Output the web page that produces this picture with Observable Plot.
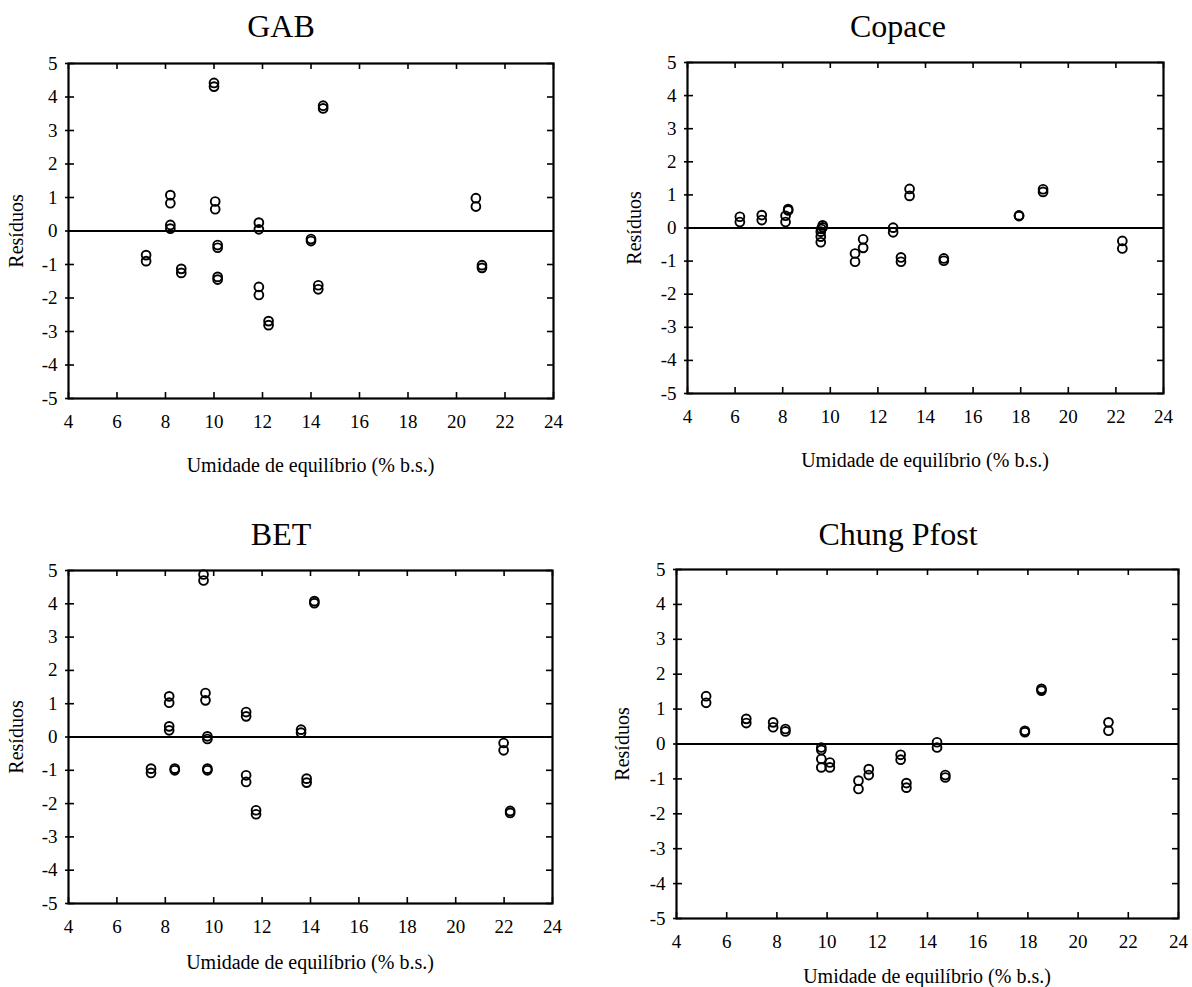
<!DOCTYPE html>
<html>
<head>
<meta charset="utf-8">
<script src="https://cdn.jsdelivr.net/npm/d3@7"></script>
<script src="https://cdn.jsdelivr.net/npm/@observablehq/plot@0.6"></script>
<style>
  html, body { margin: 0; padding: 0; background: #fff; }
  #page { position: relative; width: 1192px; height: 987px; font-family: "Liberation Serif", "Times New Roman", serif; color: #000; }
  .panel-title, .x-label, .y-label { position: absolute; white-space: nowrap; line-height: 1; }
  .panel-title { font-size: 32px; transform: translate(-50%, -50%); }
  .x-label { font-size: 20px; transform: translate(-50%, -50%); }
  .y-label { font-size: 20px; transform: translate(-50%, -50%) rotate(-90deg); }
  .panel-svg { position: absolute; }
  .panel-svg, .panel-svg text { font-family: "Liberation Serif", "Times New Roman", serif !important; }
</style>
</head>
<body>
<div id="page"></div>
<script>
// Residuals of four sorption-isotherm models vs equilibrium moisture content
const xTicks = [4, 6, 8, 10, 12, 14, 16, 18, 20, 22, 24];
const yTicks = [-5, -4, -3, -2, -1, 0, 1, 2, 3, 4, 5];
const xLabel = "Umidade de equilíbrio (% b.s.)";
const yLabel = "Resíduos";

const gabX = [10.0, 10.0, 14.5, 14.5, 8.2, 8.2, 8.2, 8.2, 10.05, 10.05, 11.85, 11.85, 7.2, 7.2, 8.65, 8.65,
  10.15, 10.15, 10.15, 10.15, 11.85, 11.85, 12.25, 12.25, 14.0, 14.0, 14.3, 14.3, 20.8, 20.8, 21.05, 21.05];
const gabY = [4.42, 4.31, 3.74, 3.66, 1.07, 0.83, 0.18, 0.07, 0.88, 0.65, 0.25, 0.05, -0.72, -0.90, -1.13, -1.25,
  -0.42, -0.50, -1.37, -1.45, -1.67, -1.91, -2.69, -2.81, -0.24, -0.30, -1.62, -1.74, 0.98, 0.73, -1.02, -1.10];

const copaceX = [6.2, 6.2, 7.12, 7.12, 8.12, 8.12, 8.23, 8.23, 9.68, 9.68, 9.62, 9.6, 9.6, 9.6, 11.04, 11.04,
  11.38, 11.38, 12.64, 12.64, 12.97, 12.97, 13.33, 13.33, 14.77, 14.77, 17.93, 17.93, 18.94, 18.94, 22.27, 22.27];
const copaceY = [0.34, 0.18, 0.39, 0.24, 0.37, 0.18, 0.57, 0.53, 0.08, 0.02, -0.03, -0.11, -0.26, -0.43, -0.77, -1.02,
  -0.34, -0.60, 0.01, -0.13, -0.89, -1.02, 1.18, 0.97, -0.92, -0.99, 0.38, 0.36, 1.17, 1.09, -0.39, -0.62];

const betX = [9.58, 9.58, 14.16, 14.16, 8.16, 8.16, 8.16, 8.16, 9.66, 9.66, 9.74, 9.74, 11.34, 11.34, 13.61, 13.61,
  7.41, 7.41, 8.39, 8.39, 9.74, 9.74, 11.34, 11.34, 11.75, 11.75, 13.84, 13.84, 21.98, 21.98, 22.25, 22.25];
const betY = [4.88, 4.70, 4.08, 4.02, 1.22, 1.03, 0.32, 0.20, 1.32, 1.10, 0.02, -0.06, 0.75, 0.62, 0.22, 0.13,
  -0.95, -1.08, -0.95, -1.00, -0.95, -1.00, -1.15, -1.35, -2.20, -2.32, -1.25, -1.37, -0.18, -0.40, -2.22, -2.28];

const chungX = [5.18, 5.18, 6.78, 6.78, 7.85, 7.85, 8.34, 8.34, 9.77, 9.77, 9.77, 9.77, 10.11, 10.11, 11.25, 11.25,
  11.66, 11.66, 12.93, 12.93, 13.16, 13.16, 14.38, 14.38, 14.71, 14.71, 17.88, 17.88, 18.54, 18.54, 21.21, 21.21];
const chungY = [1.37, 1.18, 0.72, 0.60, 0.62, 0.48, 0.43, 0.36, -0.10, -0.17, -0.43, -0.67, -0.53, -0.67, -1.05, -1.29,
  -0.72, -0.89, -0.31, -0.45, -1.12, -1.25, 0.05, -0.10, -0.89, -0.96, 0.38, 0.34, 1.58, 1.53, 0.62, 0.38];

// Panel placement on the page (frame edges in px)
const panels = [
  {title: "GAB",         xs: gabX,    ys: gabY,    L: 68,  R: 553,  T: 63,  B: 398, titleX: 281, titleY: 26,  xLabelY: 465, yLabelX: 16},
  {title: "Copace",      xs: copaceX, ys: copaceY, L: 687, R: 1163, T: 62,  B: 393, titleX: 898, titleY: 26,  xLabelY: 460, yLabelX: 634},
  {title: "BET",         xs: betX,    ys: betY,    L: 68,  R: 552,  T: 570, B: 903, titleX: 281, titleY: 534, xLabelY: 962, yLabelX: 16},
  {title: "Chung Pfost", xs: chungX,  ys: chungY,  L: 676, R: 1178, T: 569, B: 918, titleX: 898, titleY: 534, xLabelY: 976, yLabelX: 622}
];

const page = document.getElementById("page");
const mL = 60, mR = 10, mT = 10, mB = 40, tick = 6;

for (const p of panels) {
  const pw = p.R - p.L, ph = p.B - p.T;
  const pts = p.xs.map((x, i) => ({x, y: p.ys[i]}));

  const chart = Plot.plot({
    width: pw + mL + mR,
    height: ph + mT + mB,
    marginLeft: mL, marginRight: mR, marginTop: mT, marginBottom: mB,
    style: {fontFamily: "'Liberation Serif', 'Times New Roman', serif", fontSize: "19px", color: "#000", background: "transparent", overflow: "visible"},
    x: {domain: [4, 24], ticks: xTicks},
    y: {domain: [-5, 5], ticks: yTicks},
    marks: [
      Plot.axisX(xTicks, {tickSize: 0, tickPadding: 16, label: null, fontSize: 19, tickFormat: d => String(d)}),
      Plot.axisY(yTicks, {tickSize: 0, tickPadding: 11, label: null, fontSize: 19, tickFormat: d => String(d)}),
      // inward ticks on all four sides
      Plot.ruleX(xTicks, {x: d => d, insetTop: ph - tick, stroke: "#000", strokeWidth: 1.6}),
      Plot.ruleX(xTicks, {x: d => d, insetBottom: ph - tick, stroke: "#000", strokeWidth: 1.6}),
      Plot.ruleY(yTicks, {y: d => d, insetLeft: -3, insetRight: pw - tick, stroke: "#000", strokeWidth: 1.6}),
      Plot.ruleY(yTicks, {y: d => d, insetLeft: pw - tick, stroke: "#000", strokeWidth: 1.6}),
      Plot.ruleY([0], {stroke: "#000", strokeWidth: 2}),
      Plot.dot(pts, {x: "x", y: "y", r: 4.4, stroke: "#000", strokeWidth: 1.9, fill: "none"}),
      Plot.frame({stroke: "#000", strokeWidth: 2.2})
    ]
  });
  chart.classList.add("panel-svg");
  chart.style.left = (p.L - mL) + "px";
  chart.style.top = (p.T - mT) + "px";
  page.appendChild(chart);

  const title = document.createElement("div");
  title.className = "panel-title";
  title.textContent = p.title;
  title.style.left = p.titleX + "px";
  title.style.top = p.titleY + "px";
  page.appendChild(title);

  const xl = document.createElement("div");
  xl.className = "x-label";
  xl.textContent = xLabel;
  xl.style.left = ((p.L + p.R) / 2) + "px";
  xl.style.top = p.xLabelY + "px";
  page.appendChild(xl);

  const yl = document.createElement("div");
  yl.className = "y-label";
  yl.textContent = yLabel;
  yl.style.left = p.yLabelX + "px";
  yl.style.top = ((p.T + p.B) / 2) + "px";
  page.appendChild(yl);
}
</script>
</body>
</html>
